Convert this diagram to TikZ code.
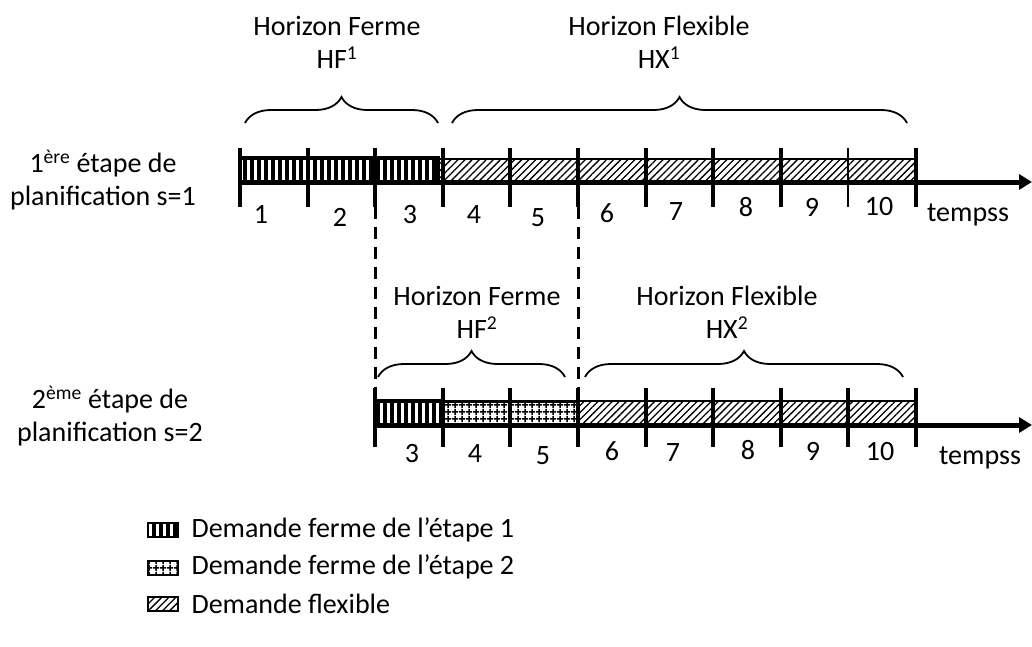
\documentclass[tikz,border=0pt]{standalone}
\usepackage{fontspec}
\setmainfont{Carlito}
\usetikzlibrary{arrows.meta,patterns.meta,decorations.pathreplacing}
\tikzset{
  axe/.style={line width=5pt,-{Triangle[length=13pt,width=15pt]}},
  tic/.style={line width=4pt},
  fermeA/.style={pattern={Lines[angle=90,distance=7pt,line width=3.2pt]},draw,line width=4pt},
  fermeB/.style={pattern={Hatch[angle=0,distance=6.5pt,line width=1.6pt]},draw,line width=3pt},
  flex/.style={pattern={Lines[angle=45,distance=5pt,line width=1.3pt]},draw,line width=2.5pt},
  acc/.style={decorate,decoration={brace,amplitude=26pt},line width=1.8pt},
  titre/.style={align=center,font=\fontsize{28}{33}\selectfont},
  lbl/.style={font=\fontsize{28}{31}\selectfont},
  tiret/.style={line width=3pt,dash pattern=on 12pt off 8pt}
}

\begin{document}
\begin{tikzpicture}[x=1pt,y=-1pt]
\useasboundingbox (0,0) rectangle (1032,646);
% etape 1
\draw[fermeA] (240,158) rectangle (438,182);
\draw[flex] (438,159) rectangle (916,182);
\draw[axe] (240,182) -- (1032,182);
\foreach \i/\w in {0/4,1/4,2/4,3/4,4/4,5/4,6/4,7/4,8/4,9/2,10/4}
  \draw[tic,line width=\w pt] (240+67.6*\i,148) coordinate (h\i) -- (240+67.6*\i,207) coordinate (b\i);
\foreach \n/\x/\y in {1/261/214,2/340/217,3/410/215,4/474/215,5/538/218,6/607/213,7/676/212,8/746/207,9/812/207,10/879/207}
  \node[lbl] (u\n) at (\x,\y) {\n};
\node[lbl] (temps1) at (968,215) {tempss};
\node[titre] (et1) at (103,180) {1\textsuperscript{ère} étape de\\planification s=1};
% accolades 1
\draw[acc] (245,123) -- (438,123);
\draw[acc] (452,123) -- (907,123);
\node[titre] (hf1) at (337,42) {Horizon Ferme\\HF\textsuperscript{1}};
\node[titre] (hx1) at (659,42) {Horizon Flexible\\HX\textsuperscript{1}};
% etape 2
\draw[fermeA] (376,401) rectangle (443,425);
\draw[fermeB] (443,401) rectangle (578,425);
\draw[flex] (578,401) rectangle (916,425);
\draw[axe] (376,425) -- (1032,425);
\foreach \i in {2,...,10}
  \draw[tic] (240+67.6*\i,388) coordinate (hh\i) -- (240+67.6*\i,447) coordinate (bb\i);
\foreach \n/\x/\y in {3/412/454,4/475/454,5/543/456,6/612/451,7/673/453,8/748/450,9/813/451,10/880/451}
  \node[lbl] (v\n) at (\x,\y) {\n};
\node[lbl] (temps2) at (980,458) {tempss};
\node[titre] (et2) at (110,416) {2\textsuperscript{ème} étape de\\planification s=2};
% accolades 2
\draw[acc] (378,377) -- (565,377);
\draw[acc] (585,377) -- (903,377);
\node[titre] (hf2) at (477,312) {Horizon Ferme\\HF\textsuperscript{2}};
\node[titre] (hx2) at (727,312) {Horizon Flexible\\HX\textsuperscript{2}};
% liens
\draw[tiret] (b2) -- (hh2);
\draw[tiret] (b5) -- (hh5);
% legende
\draw[fermeA,line width=2pt] (148,523) rectangle (178,537);
\draw[fermeB,line width=2pt] (148,561) rectangle (178,575);
\draw[flex,line width=2pt] (148,597) rectangle (178,611);
\node[lbl,anchor=west] (l1) at (188,530) {Demande ferme de l’étape 1};
\node[lbl,anchor=west] (l2) at (188,567) {Demande ferme de l’étape 2};
\node[lbl,anchor=west] (l3) at (188,604) {Demande flexible};
\end{tikzpicture}
\end{document}
